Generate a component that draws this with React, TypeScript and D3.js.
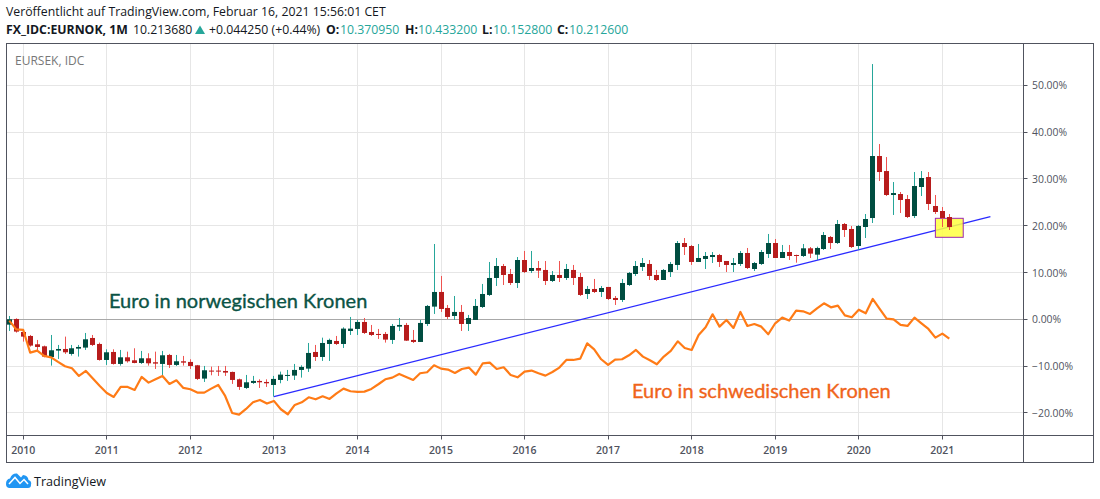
import React from "react";
import * as d3 from "d3";

// Candles of EURNOK, in percent change from the first month (Nov 2009 = index 0)
const opens = [-1.14,.07,-2.71,-3.56,-5.34,-5.77,-8.05,-6.69,-6.34,-7.40,-6.27,-6.05,-3.99,-5.27,-8.69,-6.98,-9.54,-8.12,-8.76,-9.33,-8.33,-9.18,-9.54,-7.62,-9.75,-8.97,-9.11,-9.83,-12.67,-10.96,-10.96,-11.04,-11.25,-12.82,-14.67,-13.60,-13.17,-13.39,-14.03,-12.96,-12.03,-12.03,-10.82,-10.54,-6.98,-8.05,-5.27,-4.63,-5.27,-2.49,-2.06,-.57,-2.71,-3.13,-3.13,-4.41,-1.57,-1.21,-4.41,-4.84,-1.00,2.71,5.84,2.42,.71,1.57,-1.00,-.14,2.63,5.20,8.83,11.39,9.68,7.76,12.67,10.32,10.96,10.54,8.19,9.47,8.83,10.54,9.04,5.41,6.48,5.84,6.91,4.56,4.13,7.33,9.68,11.18,11.82,9.47,8.40,10.11,11.61,16.30,15.66,12.25,12.89,13.31,13.74,12.46,11.61,11.82,14.17,10.75,11.82,13.96,16.30,13.10,14.38,13.74,13.53,15.17,13.81,15.02,17.59,16.30,20.36,19.30,15.66,19.72,21.64,34.89,31.68,26.56,26.77,25.70,22.07,28.27,30.40,24.21,23.14,21.86];
const closes = [0,-2.63,-3.70,-5.62,-5.91,-7.97,-6.62,-6.34,-7.05,-6.19,-5.91,-4.27,-5.48,-8.69,-7.05,-9.54,-8.12,-8.97,-9.33,-8.33,-9.40,-9.47,-7.69,-9.75,-8.97,-9.26,-9.97,-12.74,-10.89,-11.11,-11.11,-11.39,-12.96,-14.45,-13.46,-13.17,-13.46,-13.67,-12.74,-11.82,-11.89,-10.82,-10.18,-7.19,-8.05,-5.06,-4.41,-5.27,-1.99,-1.99,-.57,-2.92,-3.35,-3.35,-4.34,-1.42,-1.21,-4.56,-4.84,-.78,2.85,5.84,2.21,.50,1.57,-1.00,.28,2.85,5.41,8.83,11.39,9.47,7.76,12.67,10.11,10.96,10.40,8.19,9.47,8.83,10.75,8.83,5.20,6.48,5.84,6.69,4.34,4.13,7.76,9.90,11.39,12.03,9.26,8.40,10.54,11.82,16.30,15.45,12.25,13.10,13.53,13.74,12.25,11.61,12.03,14.17,10.96,12.03,14.38,16.30,13.10,14.38,13.53,13.60,15.17,14.03,15.24,18.01,16.30,20.36,19.08,15.45,19.94,21.43,34.89,31.47,26.56,26.98,25.49,21.86,28.48,30.19,24.64,22.93,21.64,19.72];
const highs = [.71,.21,-2.14,-3.35,-4.41,-5.62,-3.35,-5.48,-3.70,-5.48,-5.48,-2.92,-3.35,-4.98,-6.41,-6.41,-6.55,-6.91,-6.19,-6.76,-7.26,-6.91,-6.76,-7.40,-7.62,-7.83,-8.54,-9.75,-9.97,-10.11,-9.97,-9.97,-11.18,-12.67,-11.89,-12.10,-12.82,-12.82,-12.10,-11.18,-10.82,-9.54,-9.83,-5.06,-5.48,-3.92,-4.13,-3.56,-1.71,.50,-.14,.28,-1.21,-2.06,-2.71,-1.00,.28,-.78,-2.28,-.14,3.06,16.09,9.26,3.06,4.98,3.06,.93,4.34,7.55,12.25,13.10,11.82,10.75,13.31,14.60,14.60,12.46,12.46,10.32,12.46,11.82,11.61,9.90,7.12,8.62,7.12,6.91,4.98,8.62,10.11,12.46,13.10,12.67,10.54,10.75,12.25,16.73,17.37,15.88,16.09,14.38,14.38,13.96,12.46,13.10,14.60,15.24,12.25,14.81,18.23,17.16,15.88,15.88,13.81,16.09,15.45,15.52,18.65,17.80,21.22,20.58,19.94,20.15,22.50,54.54,37.45,34.67,29.33,27.20,26.56,31.47,31.68,31.47,26.56,23.99,22.50];
const lows = [-2.49,-2.85,-4.77,-5.84,-6.91,-8.12,-9.90,-8.47,-7.40,-7.76,-7.97,-6.55,-5.70,-8.83,-9.75,-9.68,-9.90,-9.26,-9.40,-9.54,-9.90,-10.61,-12.39,-10.40,-9.97,-9.90,-10.61,-12.96,-13.39,-11.96,-12.10,-12.10,-13.81,-15.09,-14.88,-13.81,-14.67,-14.45,-16.52,-13.67,-13.17,-12.96,-12.46,-11.25,-8.90,-8.90,-8.90,-5.48,-6.12,-3.35,-3.35,-3.13,-3.56,-4.20,-4.98,-5.27,-2.49,-4.63,-5.06,-4.84,-1.42,1.14,1.57,.07,-.14,-2.49,-2.49,-.14,2.42,4.98,7.12,7.33,7.33,6.69,9.90,9.90,8.83,7.33,7.97,7.97,8.40,7.33,4.98,4.34,5.62,4.77,4.13,3.06,3.70,7.12,9.26,10.32,8.40,8.19,8.40,9.04,10.54,13.74,11.61,12.25,10.75,12.03,11.18,10.11,10.11,11.39,10.75,10.32,11.61,13.10,13.10,13.10,12.67,12.10,13.31,13.10,12.67,14.81,15.02,16.09,17.59,15.24,14.81,17.37,20.58,29.55,26.34,22.29,22.71,21.64,21.64,26.34,23.35,22.50,19.72,19.08];

// EURSEK overlay, in percent
const sekValues = [-.28,-2.14,-2.28,-7.12,-6.69,-7.83,-8.12,-9.11,-10.04,-10.47,-12.10,-11.04,-12.67,-14.24,-15.74,-16.59,-14.45,-14.45,-15.09,-12.32,-13.53,-12.82,-12.10,-13.81,-13.03,-14.67,-14.95,-15.66,-15.66,-14.81,-14.03,-16.38,-20.01,-20.36,-19.15,-17.73,-17.23,-18.01,-17.44,-19.22,-20.29,-18.30,-17.73,-16.66,-17.09,-16.45,-17.02,-15.81,-14.81,-15.38,-15.52,-15.45,-14.88,-13.88,-12.82,-12.46,-11.68,-12.32,-12.96,-11.53,-11.32,-9.83,-10.54,-10.75,-11.46,-10.61,-10.32,-11.82,-9.40,-9.26,-10.61,-10.25,-11.89,-12.39,-11.18,-10.96,-11.53,-12.03,-11.25,-10.32,-8.69,-8.69,-8.40,-5.13,-6.41,-8.54,-9.75,-8.62,-8.54,-7.69,-6.55,-7.97,-8.76,-9.61,-7.97,-6.76,-4.70,-6.12,-6.55,-3.35,-1.71,1.07,-1.57,-.14,-1.85,1.57,-1.42,-1.00,-1.57,-3.20,-.85,.36,-.28,1.85,1.71,1.14,2.35,3.42,2.56,2.92,.85,.43,2.06,1.28,4.34,2.21,.14,0,-1.21,-1.42,.36,-.85,-2.06,-3.92,-3.06,-4.13];

const yearLabels = [2010,2011,2012,2013,2014,2015,2016,2017,2018,2019,2020,2021];
const yearIndexes = [2,14,26,38,50,62,74,86,98,110,122,134];
const percentTicks = [50,40,30,20,10,0,-10,-20];

// Drawings, as [month index, percent]
const trendLine = [[38,-16.52],[140.9,21.92]];
const highlightBox = [[133,21.58],[137,17.52]];

const W = 1100, H = 499;
const FRAME = { left: 6.5, right: 1093.5, top: 43.5, bottom: 462.5 };
const AXIS_X = 1023.5, AXIS_Y = 435.5;
const TEAL = "#26a69a";
const TEXT = "#131722";
const HEAD = "'Open Sans', sans-serif";
const TICKF = "'Open Sans', sans-serif";

export default function App() {
  const x = d3.scaleLinear().domain([0, 135]).range([9.3, 949.3]);
  const y = d3.scaleLinear().domain([0, 50]).range([319.3, 85.3]);
  const snap = (v: number) => Math.round(v - 0.5) + 0.5;
  const sekLine = d3.line<number>().x((_, i) => x(i)).y((v) => y(v));
  const trend = d3.line<number[]>().x((d) => x(d[0])).y((d) => y(d[1]));

  return (
    <svg width={W} height={H} viewBox={`0 0 ${W} ${H}`} style={{ position: "absolute", left: 0, top: 0, background: "#fff" }}>
      <text x={6} y={16} fontFamily={HEAD} fontSize={12.27} fill={TEXT}>Veröffentlicht auf TradingView.com, Februar 16, 2021 15:56:01 CET</text>
      <text x={6} y={34} fontFamily={HEAD} fontSize={12.27} fill={TEXT}>
        <tspan fontWeight={700}>FX_IDC:EURNOK, 1M</tspan>
        <tspan x={133}>10.213680</tspan>
        <tspan x={209}>+0.044250 (+0.44%)</tspan>
        <tspan x={326} fontWeight={700}>O:</tspan>
        <tspan x={340} fill={TEAL}>10.370950</tspan>
        <tspan x={405} fontWeight={700}>H:</tspan>
        <tspan x={418} fill={TEAL}>10.433200</tspan>
        <tspan x={482} fontWeight={700}>L:</tspan>
        <tspan x={493} fill={TEAL}>10.152800</tspan>
        <tspan x={557} fontWeight={700}>C:</tspan>
        <tspan x={569} fill={TEAL}>10.212600</tspan>
      </text>
      <path d="M195,34 L205,34 L200,25.5 Z" fill={TEAL} />

      {yearIndexes.map((m) => (
        <line key={m} x1={snap(x(m))} x2={snap(x(m))} y1={FRAME.top} y2={AXIS_Y} stroke="#e6e6e6" strokeWidth={1} />
      ))}
      {percentTicks.map((p) => (
        <line key={p} x1={FRAME.left} x2={AXIS_X} y1={snap(y(p))} y2={snap(y(p))} stroke={p === 0 ? "#a8a8a8" : "#e6e6e6"} strokeWidth={1} />
      ))}

      <text x={15} y={65} fontFamily={HEAD} fontSize={12} fill="#777">EURSEK, IDC</text>

      <path d={trend(trendLine) as string} fill="none" stroke="#2a2aff" strokeWidth={1.3} />
      <rect
        x={x(highlightBox[0][0])}
        y={y(highlightBox[0][1])}
        width={x(highlightBox[1][0]) - x(highlightBox[0][0])}
        height={y(highlightBox[1][1]) - y(highlightBox[0][1])}
        fill="#ffff40"
        fillOpacity={0.85}
        stroke="#9c27b0"
        strokeWidth={1}
      />

      {opens.map((o, i) => {
        const c = closes[i];
        const up = c >= o;
        const cx = snap(x(i));
        const top = y(Math.max(o, c));
        const bottom = y(Math.min(o, c));
        return (
          <g key={i}>
            <line x1={cx} x2={cx} y1={y(highs[i])} y2={y(lows[i])} stroke={up ? TEAL : "#ef5350"} strokeWidth={1} />
            <rect x={cx - 2.5} width={5} y={top} height={Math.max(bottom - top, 1)} fill={up ? "#004d40" : "#b71c1c"} />
          </g>
        );
      })}

      <path d={sekLine(sekValues) as string} fill="none" stroke="#ff7b16" strokeWidth={2.2} strokeLinejoin="round" />

      <text x={109} y={308} fontFamily="Lato, sans-serif" fontSize={20} fill="#0b5345" stroke="#0b5345" strokeWidth={0.35}>Euro in norwegischen Kronen</text>
      <text x={632} y={398} fontFamily="Lato, sans-serif" fontSize={20} fill="#f0641a" stroke="#f0641a" strokeWidth={0.35}>Euro in schwedischen Kronen</text>

      <rect x={FRAME.left} y={FRAME.top} width={FRAME.right - FRAME.left} height={FRAME.bottom - FRAME.top} fill="none" stroke="#50535e" strokeWidth={1} />
      <line x1={AXIS_X} x2={AXIS_X} y1={FRAME.top} y2={FRAME.bottom} stroke="#50535e" />
      <line x1={FRAME.left} x2={FRAME.right} y1={AXIS_Y} y2={AXIS_Y} stroke="#50535e" />

      {percentTicks.map((p) => (
        <g key={p}>
          <line x1={AXIS_X} x2={AXIS_X + 4} y1={snap(y(p))} y2={snap(y(p))} stroke="#50535e" />
          <text x={1032} y={y(p) + 4} fontFamily={TICKF} fontSize={10.4} fill="#50535e">
            {(p < 0 ? "\u2212" + (-p).toFixed(2) : p.toFixed(2)) + "%"}
          </text>
        </g>
      ))}
      {yearIndexes.map((m, i) => (
        <g key={m}>
          <line x1={snap(x(m))} x2={snap(x(m))} y1={AXIS_Y} y2={AXIS_Y + 4} stroke="#50535e" />
          <text x={x(m)} y={454} textAnchor="middle" fontFamily={TICKF} fontWeight={600} fontSize={10.5} fill="#50535e">{yearLabels[i]}</text>
        </g>
      ))}

      <path d="M6,484 Q6,479 10,478.5 Q12,473 17,473.5 L21,477.5 L23,475 Q28,475.5 28.5,480 Q32,481 31,485 Q31,488 28,488 L9,488 Q6,487.5 6,484 Z" fill="#2196f3" />
      <path d="M9,484 L15,477.5 L20,483.5 L24,479.5 L28,484" fill="none" stroke="#fff" strokeWidth={1.5} />
      <text x={34} y={486} fontFamily={HEAD} fontSize={12.6} fill={TEXT}>TradingView</text>
    </svg>
  );
}
